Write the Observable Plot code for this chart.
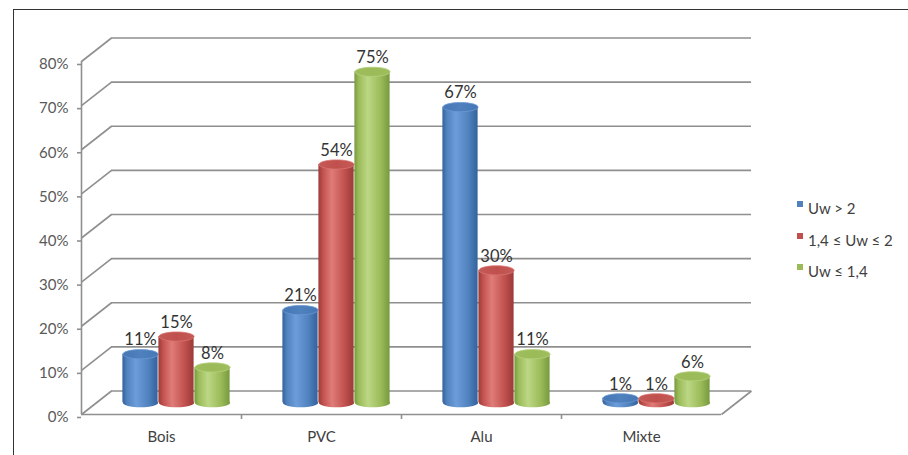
<!DOCTYPE html>
<html>
<head>
<meta charset="utf-8">
<script src="https://cdn.jsdelivr.net/npm/d3@7"></script>
<script src="https://cdn.jsdelivr.net/npm/@observablehq/plot@0.6"></script>
<style>
  html, body { margin: 0; padding: 0; background: #fff; }
  #wrap { position: relative; width: 908px; height: 455px; overflow: hidden; font-family: Lato, "Open Sans", sans-serif; }
  #frame { position: absolute; left: 13px; top: 9px; right: -2px; bottom: -2px; border-top: 1.5px solid #333; border-left: 1.5px solid #333; }
  #chart { position: absolute; left: 0; top: 0; }
  #legend { position: absolute; left: 797px; top: 198px; font-size: 15px; color: #404040; }
  .item { position: relative; height: 31.5px; padding-left: 11px; line-height: 20px; white-space: nowrap; }
  .sw { position: absolute; left: 0; top: 3px; width: 6px; height: 6px; }
</style>
</head>
<body>
<div id="wrap">
  <div id="frame"></div>
  <div id="chart"></div>
  <div id="legend"></div>
</div>
<script>
// ---- data ----
const categories = ["Bois", "PVC", "Alu", "Mixte"];
const seriesNames = ["Uw > 2", "1,4 \u2264 Uw \u2264 2", "Uw \u2264 1,4"];
const uwHigh = [11, 21, 67, 1];
const uwMid = [15, 54, 30, 1];
const uwLow = [8, 75, 11, 6];
const yTicks = [0, 10, 20, 30, 40, 50, 60, 70, 80];

// ---- style ----
const seriesValues = [uwHigh, uwMid, uwLow];
const palette = [
  {id: "gB", edge: "#33619b", light: "#6d9edb", mid: "#4f81bd", top: "#4677b6", rim: "#6a98d2"},
  {id: "gR", edge: "#9a3a37", light: "#e07c78", mid: "#c0504d", top: "#c45a56", rim: "#d97571"},
  {id: "gG", edge: "#779a3e", light: "#bcd784", mid: "#9bbb59", top: "#9ebe5d", rim: "#b6d17c"}
];
const gridColor = "#8f8f8f";
const DX = 30 / 160;      // depth offset in x units
const DY = 23.5 / 4.4125; // depth offset in y units (%)
const barStep = 0.225, barW = 0.22;
const RX = 17.6, RY = 4.6;

const ellipse = {
  draw(ctx) {
    const k = 0.5523;
    ctx.moveTo(RX, 0);
    ctx.bezierCurveTo(RX, RY * k, RX * k, RY, 0, RY);
    ctx.bezierCurveTo(-RX * k, RY, -RX, RY * k, -RX, 0);
    ctx.bezierCurveTo(-RX, -RY * k, -RX * k, -RY, 0, -RY);
    ctx.bezierCurveTo(RX * k, -RY, RX, -RY * k, RX, 0);
    ctx.closePath();
  }
};

const table = [];
seriesValues.forEach((vals, s) => {
  vals.forEach((v, i) => {
    table.push({s, i, cat: categories[i], v, cx: i + 0.5 + DX / 2 + (s - 1) * barStep});
  });
});

const marks = [];
// back wall gridlines
marks.push(Plot.ruleY(yTicks, {y: d => d + DY, x1: DX, x2: 4 + DX, stroke: gridColor, strokeWidth: 1.6}));
// side diagonals
marks.push(Plot.link(yTicks, {x1: 0, y1: d => d, x2: DX, y2: d => d + DY, stroke: gridColor, strokeWidth: 1.6}));
// floor front edge and right edge
marks.push(Plot.ruleY([0], {x1: 0, x2: 4, stroke: gridColor, strokeWidth: 1.6}));
marks.push(Plot.link([0], {x1: 4, y1: 0, x2: 4 + DX, y2: DY, stroke: gridColor, strokeWidth: 1.6}));
// y axis line
marks.push(Plot.ruleX([0], {y1: 0, y2: 80, stroke: gridColor, strokeWidth: 1.6}));
marks.push(Plot.axisY({ticks: yTicks, tickSize: 4, tickPadding: 9, tickFormat: d => d + "%", fontSize: 15, fill: "#595959", stroke: gridColor, strokeWidth: 1.6, dy: 3, label: null}));
marks.push(Plot.axisX({ticks: [1, 2, 3], tickSize: 5, tickFormat: () => "", stroke: gridColor, strokeWidth: 1.6, label: null}));

// cylinders
palette.forEach((p, s) => {
  const rows = table.filter(d => d.s === s);
  marks.push(Plot.dot(rows, {x: "cx", y: () => DY / 2, symbol: ellipse, fill: `url(#${p.id})`, stroke: "none"}));
  marks.push(Plot.rect(rows, {x1: d => d.cx - barW / 2, x2: d => d.cx + barW / 2, y1: () => DY / 2, y2: d => d.v + DY / 2, fill: `url(#${p.id})`}));
  marks.push(Plot.dot(rows, {x: "cx", y: d => d.v + DY / 2, symbol: ellipse, fill: `url(#${p.id}t)`, stroke: p.rim, strokeWidth: 0.8}));
});

// value labels
marks.push(Plot.text(table, {x: "cx", y: d => d.v + DY / 2, dy: -14, text: d => d.v + "%", fontSize: 16.5, fill: "#333"}));
// category labels
marks.push(Plot.text(categories, {x: (d, i) => i + 0.5, y: () => 0, dy: 23, text: d => d, fontSize: 15, fill: "#404040"}));

const chart = Plot.plot({
  width: 908,
  height: 455,
  marginLeft: 81,
  marginRight: 187,
  marginTop: 61,
  marginBottom: 41,
  x: {domain: [0, 4], label: null},
  y: {domain: [0, 80], label: null},
  style: {fontFamily: "Lato, 'Open Sans', sans-serif", background: "transparent", overflow: "visible"},
  marks
});

// gradients
const defs = d3.select(chart).insert("defs", ":first-child");
palette.forEach(p => {
  const g = defs.append("linearGradient").attr("id", p.id).attr("x1", 0).attr("x2", 1).attr("y1", 0).attr("y2", 0);
  [[0, p.edge], [0.12, p.mid], [0.38, p.light], [0.75, p.mid], [1, p.edge]].forEach(([o, c]) =>
    g.append("stop").attr("offset", o).attr("stop-color", c));
  const t = defs.append("linearGradient").attr("id", p.id + "t").attr("x1", 0).attr("x2", 1).attr("y1", 0).attr("y2", 0);
  [[0, p.top], [0.5, p.mid], [1, p.top]].forEach(([o, c]) =>
    t.append("stop").attr("offset", o).attr("stop-color", c));
});

document.getElementById("chart").appendChild(chart);

// legend
const legend = document.getElementById("legend");
seriesNames.forEach((name, s) => {
  const item = document.createElement("div");
  item.className = "item";
  const sw = document.createElement("span");
  sw.className = "sw";
  sw.style.background = palette[s].mid;
  item.appendChild(sw);
  item.appendChild(document.createTextNode(name));
  legend.appendChild(item);
});
</script>
</body>
</html>
